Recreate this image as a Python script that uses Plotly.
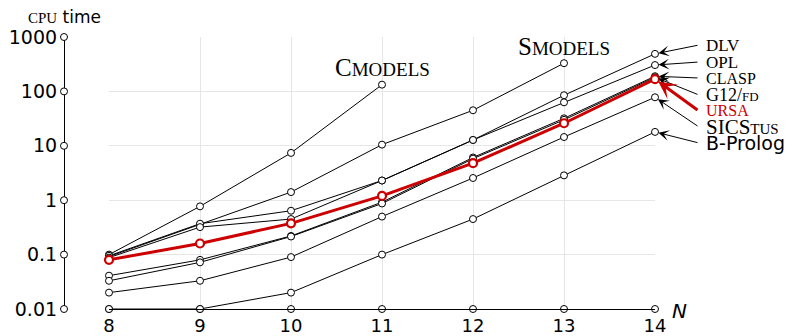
import math
import plotly.graph_objects as go

# ---------------- data ----------------
N = [8, 9, 10, 11, 12, 13, 14]
Y_TICKS = [0.01, 0.1, 1, 10, 100, 1000]
Y_TICK_TEXT = ["0.01", "0.1", "1", "10", "100", "1000"]

cmodels = [0.1, 0.77, 7.4, 133]
smodels = [0.092, 0.36, 1.41, 10.5, 45, 330]
dlv = [0.095, 0.37, 0.64, 2.3, 12.8, 85, 490]
opl = [0.088, 0.32, 0.45, 2.3, 12.8, 63, 305]
clasp = [0.041, 0.08, 0.22, 0.92, 6.1, 32, 190]
g12fd = [0.033, 0.072, 0.215, 0.87, 5.8, 30, 182]
sicstus = [0.02, 0.033, 0.09, 0.5, 2.56, 14.5, 78]
bprolog = [0.01, 0.01, 0.02, 0.1, 0.45, 2.86, 18]
ursa = [0.08, 0.16, 0.375, 1.2, 4.8, 26, 168]

# ---------------- geometry / style ----------------
OFF = 8                      # default page body margin
W, H = 807 - OFF, 336 - OFF
ML, MT = 64 - OFF, 37 - OFF
PLOT_RIGHT, PLOT_BOTTOM = 655 - OFF, 309 - OFF
MR, MB = W - PLOT_RIGHT, H - PLOT_BOTTOM
PLOT_W = W - ML - MR
PLOT_H = H - MT - MB
DECADE = PLOT_H / 5.0
X_DOMAIN_START = 45 / PLOT_W
RED = "#cc0000"
GRID = "#e6e6e6"
SANS = "DejaVu Sans"
SERIF = "Liberation Serif"

fig = go.Figure()

black_series = [cmodels, smodels, dlv, opl, clasp, g12fd, sicstus, bprolog]
for vals in black_series:
    fig.add_trace(go.Scatter(
        x=N[:len(vals)], y=vals, mode="lines+markers",
        line=dict(color="black", width=1),
        marker=dict(symbol="circle", size=7, color="white",
                    line=dict(color="black", width=1)),
        cliponaxis=False, showlegend=False, hoverinfo="skip"))

# x-axis tick circles
fig.add_trace(go.Scatter(
    x=N, y=[Y_TICKS[0]] * len(N), mode="markers",
    marker=dict(symbol="circle", size=7, color="white",
                line=dict(color="black", width=1)),
    cliponaxis=False, showlegend=False, hoverinfo="skip"))

# y-axis tick circles (on a helper x axis placed at the y-axis line)
fig.add_trace(go.Scatter(
    x=[0] * len(Y_TICKS), y=Y_TICKS, xaxis="x2", mode="markers",
    marker=dict(symbol="circle", size=7, color="white",
                line=dict(color="black", width=1)),
    cliponaxis=False, showlegend=False, hoverinfo="skip"))

# URSA (red, on top)
fig.add_trace(go.Scatter(
    x=N, y=ursa, mode="lines+markers",
    line=dict(color=RED, width=3),
    marker=dict(symbol="circle", size=8, color="white",
                line=dict(color=RED, width=2.2)),
    cliponaxis=False, showlegend=False, hoverinfo="skip"))

fig.update_layout(
    width=W, height=H,
    margin=dict(l=ML, r=MR, t=MT, b=MB, pad=0, autoexpand=False),
    paper_bgcolor="white", plot_bgcolor="white",
    showlegend=False,
    xaxis=dict(domain=[X_DOMAIN_START, 1], range=[8, 14], automargin=False,
               showgrid=True, gridcolor=GRID, gridwidth=1, zeroline=False,
               showline=True, linecolor="black", linewidth=1.2,
               tickvals=N, ticktext=[str(n) for n in N],
               ticks="", 
               tickfont=dict(family=SANS, size=18, color="black"),
               anchor="y"),
    xaxis2=dict(domain=[0, 0.001], range=[0, 1], visible=False, anchor="y",
                automargin=False),
    yaxis=dict(type="log", range=[-2, 3], anchor="free", position=0,
               automargin=False,
               showline=True, linecolor="black", linewidth=1.2,
               showgrid=True, gridcolor=GRID, gridwidth=1, zeroline=False,
               tickvals=Y_TICKS, ticktext=Y_TICK_TEXT,
               ticks="outside", ticklen=3, tickcolor="rgba(0,0,0,0)",
               tickfont=dict(family=SANS, size=19, color="black")),
)

# ---------------- right-hand labels with arrows ----------------
def sc(big, small, bs, ss):
    return (f'<span style="font-size:{bs}px">{big}</span>'
            f'<span style="font-size:{ss}px">{small}</span>')

# label centre rows in page pixels
labels = [
    (dlv, "DLV", 45, "black", SERIF, 17),
    (opl, "OPL", 62, "black", SERIF, 17),
    (clasp, "CLASP", 78, "black", SERIF, 16),
    (g12fd, 'G12/<span style="font-size:13px">FD</span>', 95, "black", SERIF, 18),
    (ursa, "URSA", 111, RED, SERIF, 16),
    (sicstus, 'SICS<span style="font-size:15px">TUS</span>', 127, "black", SERIF, 21),
    (bprolog, "B-Prolog", 143, "black", SANS, 19),
]

for vals, text, ly_page, color, fam, size in labels:
    ly = ly_page - OFF
    v = vals[-1]
    yp = MT + (3 - math.log10(v)) * DECADE
    is_red = color == RED
    fig.add_annotation(
        x=N[-1], y=math.log10(v), xref="x", yref="y",
        ax=44, ay=ly - yp, axref="pixel", ayref="pixel",
        text="", showarrow=True, arrowhead=3,
        arrowsize=1.0 if is_red else 1.8,
        arrowwidth=3 if is_red else 1,
        arrowcolor=color, standoff=4 if is_red else 3.5)
    fig.add_annotation(
        x=N[-1], xref="x", xshift=49, xanchor="left",
        y=1 - (ly - MT) / PLOT_H, yref="paper", yanchor="middle",
        text=text, showarrow=False,
        font=dict(family=fam, size=size, color=color))

# Cmodels / Smodels labels
fig.add_annotation(
    x=N[len(cmodels) - 1], y=math.log10(cmodels[-1]), xref="x", yref="y",
    yshift=17, yanchor="middle", showarrow=False,
    text=sc("C", "MODELS", 25, 19),
    font=dict(family=SERIF, size=20, color="black"))
fig.add_annotation(
    x=N[len(smodels) - 1], y=math.log10(smodels[-1]), xref="x", yref="y",
    yshift=17, yanchor="middle", showarrow=False,
    text=sc("S", "MODELS", 25, 19),
    font=dict(family=SERIF, size=20, color="black"))

# axis titles
fig.add_annotation(
    x=0, xref="paper", xanchor="center",
    y=1, yref="paper", yanchor="middle", yshift=20,
    text='<span style="font-family:Liberation Serif;font-size:15px">CPU</span> time',
    showarrow=False, font=dict(family=SANS, size=17, color="black"))
fig.add_annotation(
    x=N[-1], xref="x", xshift=24, xanchor="center",
    y=0, yref="paper", yanchor="middle", yshift=-2,
    text="<i>N</i>", showarrow=False,
    font=dict(family=SANS, size=20, color="black"))

fig.write_html("out.html")
